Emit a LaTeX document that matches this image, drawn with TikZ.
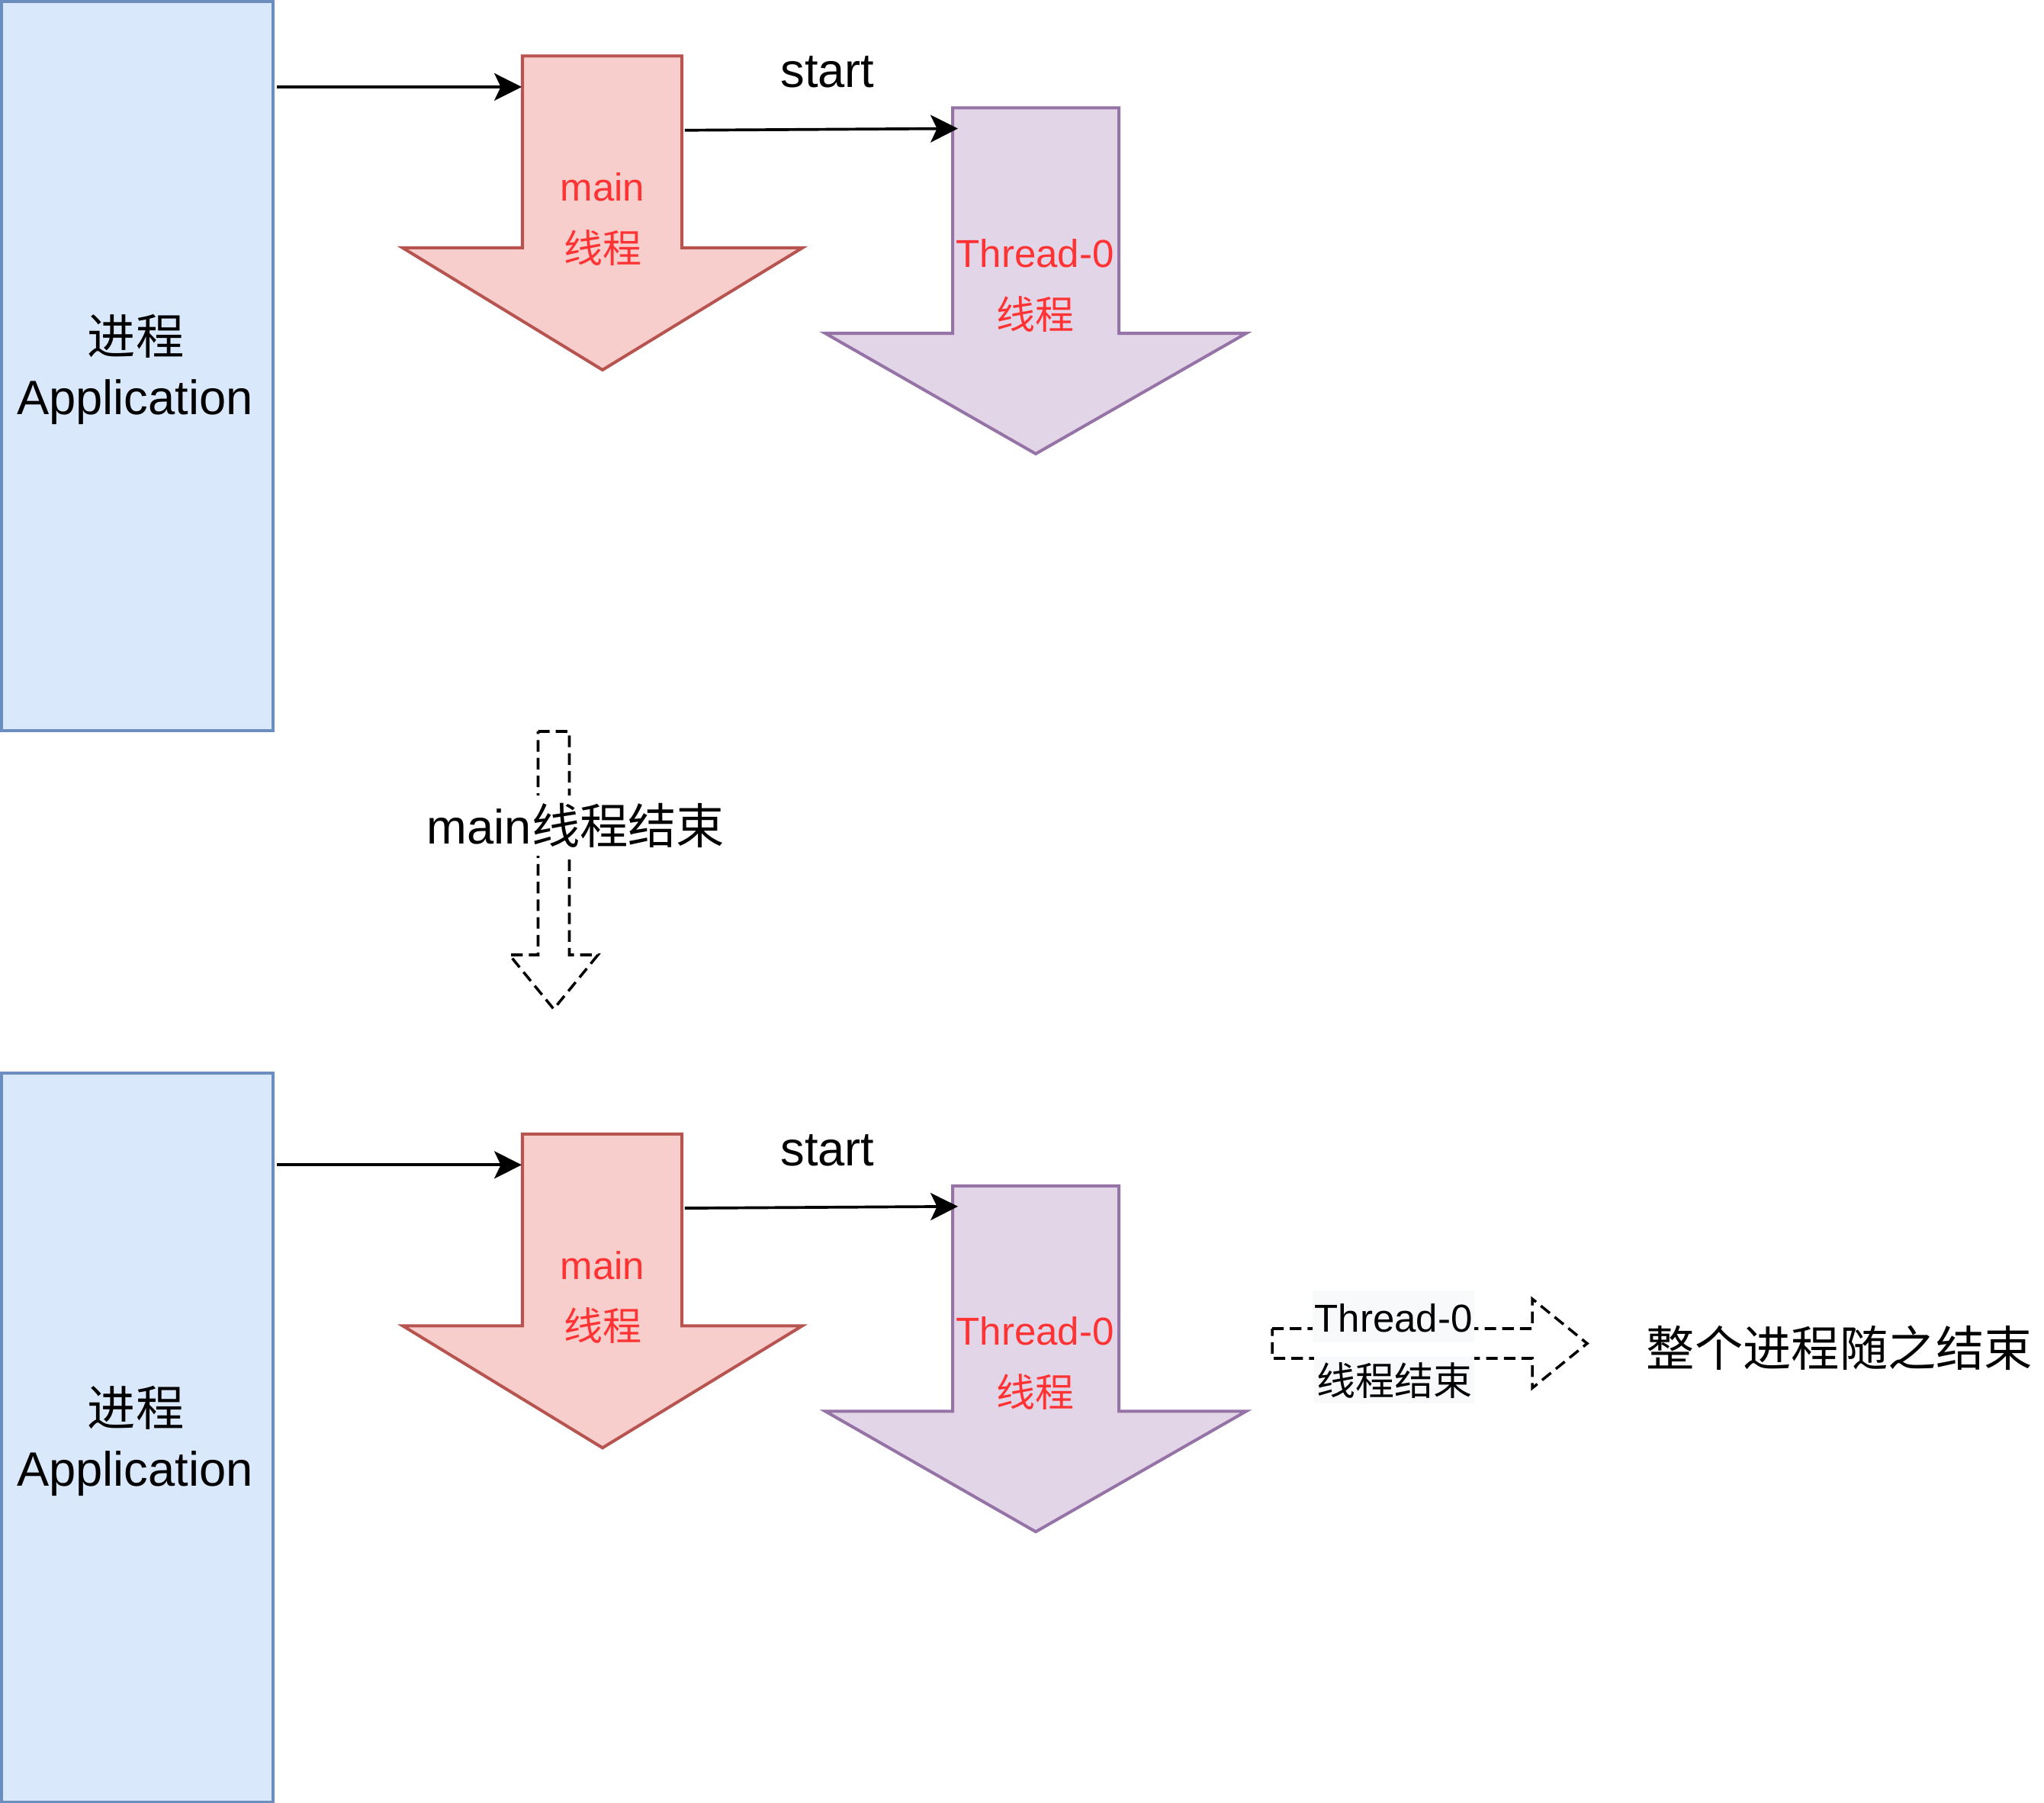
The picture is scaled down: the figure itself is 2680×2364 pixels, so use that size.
\documentclass[tikz,border=0pt]{standalone}
\usepackage{fontspec}
\setmainfont{Liberation Sans}
\newfontfamily\cjk{Noto Sans CJK SC}
\usetikzlibrary{arrows.meta}
\definecolor{appfill}{HTML}{DAE8FC}
\definecolor{appdraw}{HTML}{6C8EBF}
\definecolor{mainfill}{HTML}{F8CECC}
\definecolor{maindraw}{HTML}{B85450}
\definecolor{thfill}{HTML}{E1D5E7}
\definecolor{thdraw}{HTML}{9673A6}
\definecolor{redink}{HTML}{FF3333}
\definecolor{lblbg}{HTML}{F8F9FA}
\begin{document}
\begin{tikzpicture}[x=0.01cm,y=-0.01cm,
 appbox/.style={draw=appdraw,fill=appfill,line width=1.14pt,minimum width=3.56cm,minimum height=9.56cm,inner sep=0pt},
 mainshape/.style={draw=maindraw,fill=mainfill,line width=1.14pt},
 thshape/.style={draw=thdraw,fill=thfill,line width=1.14pt},
 dashshape/.style={draw=black,line width=1pt,dash pattern=on 4.3pt off 2.3pt},
 conn/.style={-{Stealth[length=10.2pt,width=10.2pt,inset=2.4pt]},line width=1.05pt},
 bigtxt/.style={font=\fontsize{18}{21}\selectfont,inner sep=0pt},
 cjkbig/.style={font=\cjk\fontsize{18}{21}\selectfont,inner sep=0pt},
 redlabel/.style={font=\fontsize{14.5}{17}\selectfont,text=redink,inner sep=0pt},
 redcjk/.style={font=\cjk\fontsize{14.5}{17}\selectfont,text=redink,inner sep=0pt},
 smalltxt/.style={font=\fontsize{14.5}{17}\selectfont,inner sep=0pt},
 smallcjk/.style={font=\cjk\fontsize{14.5}{17}\selectfont,inner sep=0pt},
]
\useasboundingbox (0,0) rectangle (2680,2364);
\foreach \s/\ra/\rb in {1/0/0,2/-14.04/-14.125}{
 \begin{scope}[yshift=\ra cm]
  \node[appbox] (app\s) at (180,480) {};
  \node[cjkbig] (appzh\s) at (178,441) {进程};
  \node[bigtxt,anchor=base] (appen\s) at (177,544) {Application};
 \end{scope}
 \begin{scope}[yshift=\rb cm]
  \draw[mainshape] (685,73.5) -- (894,73.5) -- (894,325) -- (1052,325) -- (790,485) -- (528,325) -- (685,325) -- cycle;
  \coordinate (mainin\s) at (684,114);
  \coordinate (mainout\s) at (894,170.8);
  \node[redlabel,anchor=base] (mainen\s) at (790,264) {main};
  \node[redcjk] (mainzh\s) at (790,325) {线程};
  \draw[thshape] (1249,141.5) -- (1467,141.5) -- (1467,437) -- (1634,437) -- (1358,595) -- (1082,437) -- (1249,437) -- cycle;
  \coordinate (thin\s) at (1256,168.5);
  \node[redlabel,anchor=base] (then\s) at (1357,350.4) {Thread-0};
  \node[redcjk] (thzh\s) at (1357,412) {线程};
  \node[bigtxt,anchor=base] (start\s) at (1085,114.8) {start};
  \draw[conn,shorten <=0.8pt] (app\s.east |- mainin\s) -- (mainin\s);
  \draw[conn,shorten <=1.1pt] (mainout\s) -- (thin\s);
 \end{scope}
}
% middle dashed arrow
\draw[dashshape] (705.5,959) -- (746.5,959) -- (746.5,1252) -- (784,1252) -- (726,1323) -- (668,1252) -- (705.5,1252) -- cycle;
\node[bigtxt,anchor=base,fill=white,inner ysep=3pt] (mainend) at (755,1106.7) {main{\cjk 线程结束}};
% right dashed arrow
\draw[dashshape] (1668,1742) -- (2009,1742) -- (2009,1703) -- (2081,1761.5) -- (2009,1820) -- (2009,1781) -- (1668,1781) -- cycle;
\fill[lblbg] (1721,1692) rectangle (1933,1760);
\fill[lblbg] (1723,1779) rectangle (1933,1840);
\node[smalltxt,anchor=base] (thend1) at (1827,1746.7) {Thread-0};
\node[smallcjk] (thend2) at (1828,1810) {线程结束};
\node[cjkbig] (procend) at (2412,1767) {整个进程随之结束};
\end{tikzpicture}
\end{document}
